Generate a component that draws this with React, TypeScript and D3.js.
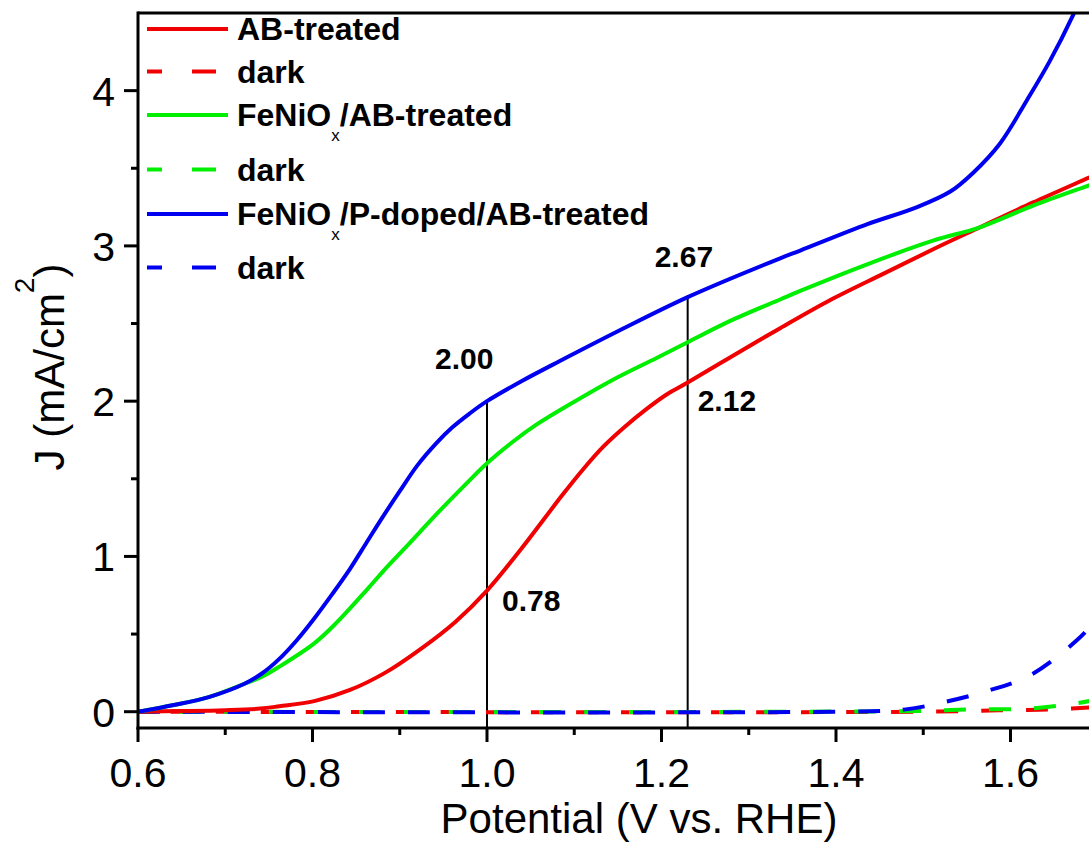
import React from "react";
import * as d3 from "d3";

type Pt = [number, number];

const abTreated: Pt[] = [
  [0.6, 0], [0.65, 0.004], [0.7, 0.01], [0.74, 0.02], [0.762, 0.035], [0.802, 0.068],
  [0.843, 0.14], [0.883, 0.25], [0.923, 0.4], [0.964, 0.58], [1.0, 0.78], [1.038, 1.04],
  [1.087, 1.4], [1.11, 1.56], [1.133, 1.705], [1.158, 1.835], [1.183, 1.95], [1.205, 2.04],
  [1.23, 2.12], [1.278, 2.28], [1.336, 2.47],
  [1.393, 2.65], [1.454, 2.82], [1.512, 2.98], [1.565, 3.12], [1.626, 3.28], [1.69, 3.44], [1.71, 3.49],
];
const abTreatedDark: Pt[] = [[0.6, 0], [1.5, 0], [1.6, 0.01], [1.65, 0.015], [1.7, 0.03]];

const feniox: Pt[] = [
  [0.6, 0], [0.641, 0.043], [0.682, 0.096], [0.722, 0.18], [0.742, 0.225], [0.762, 0.29],
  [0.802, 0.44], [0.827, 0.57], [0.863, 0.79], [0.885, 0.93], [0.907, 1.06], [0.94, 1.26],
  [0.98, 1.49], [1.0, 1.6], [1.03, 1.74], [1.057, 1.85], [1.095, 1.98], [1.145, 2.14],
  [1.195, 2.28], [1.23, 2.38], [1.28, 2.52], [1.336, 2.655], [1.359, 2.71], [1.435, 2.88],
  [1.512, 3.035], [1.565, 3.12], [1.626, 3.26], [1.69, 3.39], [1.71, 3.43],
];
const fenioxDark: Pt[] = [[0.6, 0], [1.5, 0.005], [1.55, 0.015], [1.62, 0.02], [1.676, 0.054], [1.7, 0.08]];

const fenioxP: Pt[] = [
  [0.6, 0], [0.641, 0.043], [0.682, 0.096], [0.722, 0.18], [0.742, 0.246], [0.762, 0.34],
  [0.782, 0.46], [0.802, 0.6], [0.823, 0.76], [0.843, 0.92], [0.862, 1.09], [0.88, 1.25],
  [0.9, 1.42], [0.92, 1.585], [0.942, 1.73], [0.96, 1.83], [0.98, 1.92], [1.0, 2.0],
  [1.04, 2.13], [1.084, 2.26], [1.15, 2.45], [1.23, 2.67], [1.336, 2.92], [1.359, 2.97], [1.436, 3.14],
  [1.493, 3.25], [1.531, 3.35], [1.557, 3.47], [1.588, 3.66], [1.619, 3.94], [1.645, 4.19],
  [1.672, 4.49], [1.69, 4.72],
];
const fenioxPDark: Pt[] = [
  [0.6, 0], [1.44, 0.003], [1.48, 0.015], [1.518, 0.054], [1.57, 0.128], [1.623, 0.236],
  [1.676, 0.46], [1.7, 0.6],
];

const xMajor = [0.6, 0.8, 1.0, 1.2, 1.4, 1.6];
const xMinor = [0.7, 0.9, 1.1, 1.3, 1.5, 1.7];
const yMajor = [0, 1, 2, 3, 4];
const yMinor = [0.5, 1.5, 2.5, 3.5];

const annotV = [1.0, 1.23];
const annotTop = [2.0, 2.67];
const annotLabels = [
  { text: "2.00", v: 1.0, j: 2.0, dx: -52, dy: -32 },
  { text: "0.78", v: 1.0, j: 0.78, dx: 15, dy: 20 },
  { text: "2.67", v: 1.23, j: 2.67, dx: -33, dy: -30 },
  { text: "2.12", v: 1.23, j: 2.12, dx: 10, dy: 28 },
];

const RED = "#f00000";
const GREEN = "#00ee00";
const BLUE = "#0000f0";

const series = [
  { name: "AB-treated", data: abTreated, color: RED, dashed: false },
  { name: "dark", data: abTreatedDark, color: RED, dashed: true },
  { name: "FeNiOx/AB-treated", data: feniox, color: GREEN, dashed: false },
  { name: "dark", data: fenioxDark, color: GREEN, dashed: true },
  { name: "FeNiOx/P-doped/AB-treated", data: fenioxP, color: BLUE, dashed: false },
  { name: "dark", data: fenioxPDark, color: BLUE, dashed: true },
];
const legendRowsY = [29, 71.5, 115, 169.5, 214, 267.5];

const W = 1089;
const H = 850;
const FONT = "'Liberation Sans', Arial, sans-serif";

export default function App() {
  const x = d3.scaleLinear().domain([0.6, 1.7]).range([138, 138 + 1.1 * 872.5]);
  const y = d3.scaleLinear().domain([-0.105, 4.5]).range([728, 13]);
  const line = d3
    .line<Pt>()
    .x((d) => x(d[0]))
    .y((d) => y(d[1]))
    .curve(d3.curveCatmullRom.alpha(0.5));

  const drawOrder = [1, 3, 5, 0, 2, 4];
  const darkOffsets: Record<number, number> = { 1: 12, 3: 4, 5: 0 };

  const renderLegendText = (name: string) => {
    if (name.startsWith("FeNiOx")) {
      const rest = name.slice("FeNiOx".length);
      return (
        <>
          FeNiO
          <tspan fontSize={17} fontWeight="normal" dy={15}>x</tspan>
          <tspan dy={-15}>{rest}</tspan>
        </>
      );
    }
    return name;
  };

  return (
    <svg
      width={W}
      height={H}
      style={{ position: "absolute", left: 0, top: 0, background: "#fff" }}
      fontFamily={FONT}
    >
      <defs>
        <clipPath id="plotClip">
          <rect x={138} y={13} width={W - 138} height={728 - 13} />
        </clipPath>
      </defs>
      <rect x={0} y={0} width={W} height={H} fill="#fff" />

      {annotV.map((v, i) => (
        <line key={"av" + i} x1={x(v)} x2={x(v)} y1={y(annotTop[i])} y2={728} stroke="#000" strokeWidth={2} />
      ))}

      <g clipPath="url(#plotClip)">
        {drawOrder.map((idx) => {
          const s = series[idx];
          return (
            <path
              key={"s" + idx}
              d={line(s.data) || ""}
              fill="none"
              stroke={s.color}
              strokeWidth={4}
              strokeDasharray={s.dashed ? "22 23" : undefined}
              strokeDashoffset={s.dashed ? darkOffsets[idx] : undefined}
            />
          );
        })}
      </g>

      {annotLabels.map((a, i) => (
        <text key={"al" + i} x={x(a.v) + a.dx} y={y(a.j) + a.dy} fontSize={30} fontWeight="bold" fill="#000">
          {a.text}
        </text>
      ))}

      <line x1={138} x2={W} y1={13} y2={13} stroke="#000" strokeWidth={3} />
      <line x1={138} x2={138} y1={11.5} y2={729.5} stroke="#000" strokeWidth={3} />
      <line x1={136.5} x2={W} y1={728} y2={728} stroke="#000" strokeWidth={3} />

      {xMajor.map((v) => (
        <g key={"xm" + v}>
          <line x1={x(v)} x2={x(v)} y1={728} y2={742} stroke="#000" strokeWidth={3} />
          <text x={x(v)} y={787} textAnchor="middle" fontSize={41} fill="#000">
            {d3.format(".1f")(v)}
          </text>
        </g>
      ))}
      {xMinor.map((v) => (
        <line key={"xn" + v} x1={x(v)} x2={x(v)} y1={728} y2={735} stroke="#000" strokeWidth={3} />
      ))}

      {yMajor.map((v) => (
        <g key={"ym" + v}>
          <line x1={124} x2={138} y1={y(v)} y2={y(v)} stroke="#000" strokeWidth={3} />
          <text x={115} y={y(v) + 15} textAnchor="end" fontSize={41} fill="#000">
            {v}
          </text>
        </g>
      ))}
      {yMinor.map((v) => (
        <line key={"yn" + v} x1={131} x2={138} y1={y(v)} y2={y(v)} stroke="#000" strokeWidth={3} />
      ))}

      <text x={639} y={833} textAnchor="middle" fontSize={42} fill="#000">
        Potential (V vs. RHE)
      </text>
      <text
        transform={`translate(64, 367) rotate(-90)`}
        textAnchor="middle"
        fontSize={42}
        fill="#000"
      >
        J (mA/cm
        <tspan fontSize={28} dy={-30}>2</tspan>
        <tspan dy={30}>)</tspan>
      </text>

      {series.map((s, i) => (
        <g key={"lg" + i}>
          <line
            x1={147}
            x2={s.dashed ? 216 : 228}
            y1={legendRowsY[i]}
            y2={legendRowsY[i]}
            stroke={s.color}
            strokeWidth={4}
            strokeDasharray={s.dashed ? "15 30 24 100" : undefined}
          />
          <text x={237} y={legendRowsY[i] + 11} fontSize={32} fontWeight="bold" fill="#000">
            {renderLegendText(s.name)}
          </text>
        </g>
      ))}
    </svg>
  );
}
